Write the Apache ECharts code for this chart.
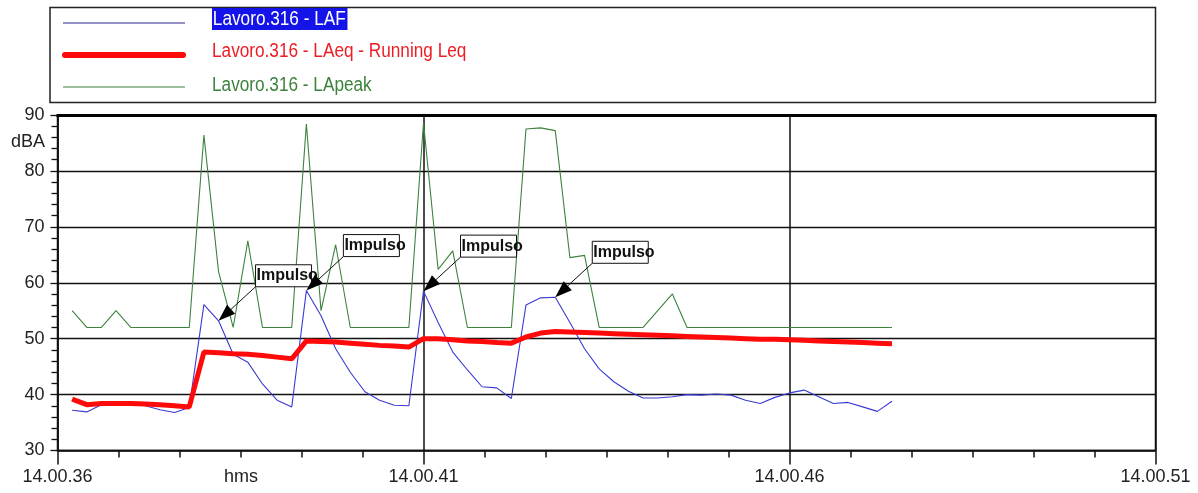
<!DOCTYPE html>
<html>
<head>
<meta charset="utf-8">
<script src="https://cdn.jsdelivr.net/npm/echarts@6/dist/echarts.min.js"></script>
<style>
html,body{margin:0;padding:0;background:#fff;}
#chart{width:1198px;height:493px;}
</style>
</head>
<body>
<div id="chart"></div>
<script>
// seconds after 14.00.36
const times = [0.2,0.4,0.6,0.8,1.0,1.2,1.4,1.6,1.8,2.0,2.2,2.4,2.6,2.8,3.0,3.2,3.4,3.6,3.8,4.0,
  4.2,4.4,4.6,4.8,5.0,5.2,5.4,5.6,5.8,6.0,6.2,6.4,6.6,6.8,7.0,7.2,7.4,7.6,7.8,8.0,
  8.2,8.4,8.6,8.8,9.0,9.2,9.4,9.6,9.8,10.0,10.2,10.4,10.6,10.8,11.0,11.2,11.4];
const lafValues = [37.2,36.9,38.2,38.3,38.3,38.0,37.3,36.8,37.7,56.1,53.2,47.2,45.8,41.9,39.0,37.8,58.6,54.1,48.2,44.0,
  40.5,39.0,38.1,38.0,58.5,52.9,47.6,44.4,41.4,41.2,39.3,56.0,57.3,57.4,52.9,48.2,44.6,42.3,40.6,39.4,
  39.4,39.6,40.0,39.9,40.1,39.9,39.0,38.4,39.5,40.3,40.8,39.6,38.4,38.6,37.8,37.0,38.8];
const leqValues = [39.2,38.2,38.4,38.4,38.4,38.3,38.2,38.0,37.8,47.6,47.5,47.3,47.2,47.0,46.7,46.4,49.6,49.5,49.4,49.2,
  49.0,48.8,48.7,48.5,50.0,50.0,49.8,49.6,49.5,49.3,49.2,50.3,51.0,51.3,51.2,51.1,51.0,50.9,50.8,50.7,
  50.6,50.5,50.4,50.3,50.2,50.1,50.0,49.9,49.9,49.8,49.7,49.6,49.5,49.4,49.3,49.2,49.1];
const peakValues = [55,52,52,55,52,52,52,52,52,86.4,62,52,67.5,52,52,52,88.4,55,66.8,52,
  52,52,52,52,88.6,62.4,65.7,52,52,52,52,87.5,87.7,87.2,64.5,64.9,52,52,52,52,
  55,58,52,52,52,52,52,52,52,52,52,52,52,52,52,52,52];
const impulseIndex = [10,16,24,33];
const impulseLabel = 'Impulso';
const xTickLabels = ['14.00.36','14.00.41','14.00.46','14.00.51'];
const seriesNames = ['Lavoro.316 - LAF','Lavoro.316 - LAeq - Running Leq','Lavoro.316 - LApeak'];
const yUnit = 'dBA';
const xUnit = 'hms';

const FONT = 'Arial, "Liberation Sans", Helvetica, sans-serif';
const BLUE = '#3a3ad2', RED = '#ff0a0a', GREEN = '#3d833d';

const pairs = (vals) => times.map((t, i) => [t, vals[i]]);
const impulseData = impulseIndex.map(i => [times[i], lafValues[i]]);

const chart = echarts.init(document.getElementById('chart'), null, {renderer: 'canvas'});

function renderImpulse(params, api) {
  const p = api.coord([api.value(0), api.value(1)]);
  const c = [p[0] + 37, p[1] - 34];
  let dx = p[0] - c[0], dy = p[1] - c[1];
  const len = Math.sqrt(dx * dx + dy * dy);
  dx /= len; dy /= len;
  const L = 17, W = 6;
  const b = [p[0] - dx * L, p[1] - dy * L];
  const n = [-dy, dx];
  return {
    type: 'group',
    children: [
      {type: 'line', shape: {x1: c[0], y1: c[1], x2: b[0], y2: b[1]}, style: {stroke: '#111', lineWidth: 1}},
      {type: 'polygon', shape: {points: [p, [b[0] + n[0] * W, b[1] + n[1] * W], [b[0] - n[0] * W, b[1] - n[1] * W]]}, style: {fill: '#000'}},
      {type: 'rect', shape: {x: c[0], y: c[1] - 22, width: 56, height: 22}, style: {fill: '#fff', stroke: '#111', lineWidth: 1}},
      {type: 'text', x: c[0] + 1, y: c[1] - 11, style: {text: impulseLabel, font: 'bold 16px ' + FONT, fill: '#111', textVerticalAlign: 'middle', textAlign: 'left'}}
    ]
  };
}

const option = {
  backgroundColor: '#fff',
  animation: false,
  grid: {left: 57.5, right: 42.5, top: 115, bottom: 42.5, show: true, borderColor: '#111', borderWidth: 1.5},
  xAxis: [{
    type: 'value', min: 0, max: 15, interval: 5,
    axisLine: {show: true, lineStyle: {color: '#111', width: 1.5}},
    axisTick: {show: true, length: 14, lineStyle: {color: '#111', width: 1.5}},
    minorTick: {show: true, splitNumber: 6, length: 7, lineStyle: {color: '#111', width: 1.5}},
    splitLine: {show: true, lineStyle: {color: '#111', width: 1.5}},
    axisLabel: {
      show: true, margin: 18, color: '#222', fontSize: 18, fontFamily: FONT,
      showMinLabel: true, showMaxLabel: true,
      formatter: v => xTickLabels[Math.round(v / 5)]
    }
  }, {
    type: 'value', min: 0, max: 15, position: 'top',
    axisLine: {show: true, lineStyle: {color: '#000', width: 3}},
    axisTick: {show: false}, axisLabel: {show: false}, splitLine: {show: false}
  }],
  yAxis: {
    type: 'value', min: 30, max: 90, interval: 10,
    axisLine: {show: true, lineStyle: {color: '#111', width: 1.5}},
    axisTick: {show: true, length: 7, lineStyle: {color: '#111', width: 1.3}},
    minorTick: {show: true, splitNumber: 5, length: 6, lineStyle: {color: '#111', width: 1.3}},
    splitLine: {show: true, lineStyle: {color: '#111', width: 1.3}},
    axisLabel: {margin: 13, color: '#222', fontSize: 18, fontFamily: FONT}
  },
  graphic: [
    {type: 'rect', shape: {x: 50, y: 7.5, width: 1105.5, height: 95}, style: {fill: 'none', stroke: '#222', lineWidth: 1.5}, z: 10},
    {type: 'line', shape: {x1: 63, y1: 23, x2: 185, y2: 23}, style: {stroke: '#25258f', lineWidth: 1.2}, z: 10},
    {type: 'line', shape: {x1: 65, y1: 55, x2: 183, y2: 55}, style: {stroke: RED, lineWidth: 6, lineCap: 'round'}, z: 10},
    {type: 'line', shape: {x1: 63, y1: 87, x2: 185, y2: 87}, style: {stroke: GREEN, lineWidth: 1.2}, z: 10},
    {type: 'text', x: 212, y: 19, scaleX: 0.86, style: {text: seriesNames[0], font: '20px ' + FONT, fill: '#fff', backgroundColor: '#1414e8', padding: [1, 2, 1, 1], textVerticalAlign: 'middle'}, z: 10},
    {type: 'text', x: 212, y: 51, scaleX: 0.86, style: {text: seriesNames[1], font: '20px ' + FONT, fill: '#ee1c24', textVerticalAlign: 'middle'}, z: 10},
    {type: 'text', x: 212, y: 85, scaleX: 0.86, style: {text: seriesNames[2], font: '20px ' + FONT, fill: GREEN, textVerticalAlign: 'middle'}, z: 10},
    {type: 'text', x: 45, y: 142, style: {text: yUnit, font: '18px ' + FONT, fill: '#222', textAlign: 'right', textVerticalAlign: 'middle'}, z: 10},
    {type: 'text', x: 241, y: 477, style: {text: xUnit, font: '18px ' + FONT, fill: '#222', textAlign: 'center', textVerticalAlign: 'middle'}, z: 10}
  ],
  series: [
    {name: seriesNames[2], type: 'line', data: pairs(peakValues), showSymbol: false, symbol: 'none',
      lineStyle: {color: GREEN, width: 1.1}, itemStyle: {color: GREEN}, z: 2},
    {name: seriesNames[0], type: 'line', data: pairs(lafValues), showSymbol: false, symbol: 'none',
      lineStyle: {color: BLUE, width: 1.1}, itemStyle: {color: BLUE}, z: 3},
    {name: seriesNames[1], type: 'line', data: pairs(leqValues), showSymbol: false, symbol: 'none',
      lineStyle: {color: RED, width: 5}, itemStyle: {color: RED}, z: 4},
    {name: 'impulse', type: 'custom', data: impulseData, renderItem: renderImpulse, clip: false, z: 6, silent: true}
  ]
};
chart.setOption(option);
</script>
</body>
</html>
